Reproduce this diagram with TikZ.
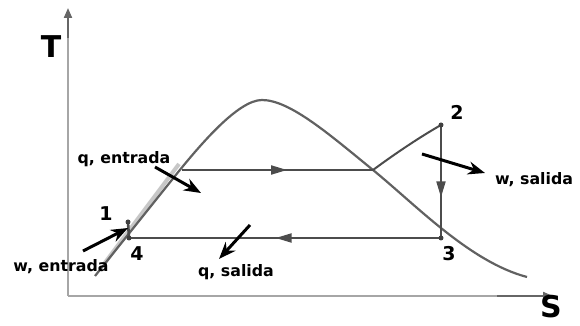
\documentclass[tikz,border=0pt]{standalone}
\usepackage{fontspec}
\setmainfont{DejaVu Sans}
\usetikzlibrary{arrows.meta,decorations.markings}
\begin{document}
\begin{tikzpicture}[x=0.5pt,y=-0.5pt,
  axisline/.style={draw=black!35, line width=1pt},
  axisdark/.style={draw=black!60, line width=1pt, -{Triangle[length=5pt,width=4pt]}},
  domeline/.style={draw=black!62, line width=1.1pt},
  cycleline/.style={draw=black!70, line width=1pt},
  midarrow/.style={postaction={decorate},decoration={markings,
      mark=at position #1 with {\arrow{Triangle[length=8pt,width=4.5pt]}}}},
  labarrow/.style={draw=black, line width=1.5pt, -{Stealth[length=8.5pt,width=6.5pt]}},
  lab/.style={font=\bfseries\fontsize{7.9pt}{9pt}\selectfont, inner sep=0pt},
  num/.style={font=\bfseries\fontsize{9.5pt}{10pt}\selectfont, inner sep=0pt},
  big/.style={font=\bfseries\fontsize{15pt}{17pt}\selectfont, inner sep=0pt}
]
\useasboundingbox (0,0) rectangle (580,326);
% axes
\coordinate (O) at (68,296);
\coordinate (Ytop) at (68,8);
\coordinate (Ymid) at (68,38);
\coordinate (Xend) at (553,296);
\coordinate (Xmid) at (497,296);
\draw[axisline] (O) -- (Ymid);
\draw[axisdark] (Ymid) -- (Ytop);
\draw[axisline] (O) -- (Xmid);
\draw[axisdark] (Xmid) -- (Xend);
\node[big] (T) at (51,47) {T};
\node[big, anchor=base] (S) at (551,318) {S};
% compressed liquid line (light)
\coordinate (La) at (104,264);
\coordinate (Lb) at (179,164);
\draw[draw=black!22, line width=2pt] (La) -- (Lb);
% saturation dome
\coordinate (D0) at (95,276);
\coordinate (D1) at (175,176);
\coordinate (Dpk) at (262,100);
\coordinate (Dr) at (373,170);
\coordinate (Dend) at (527,277);
\draw[domeline] (D0) -- (D1) .. controls (200,145) and (238,100) .. (Dpk)
  .. controls (290,100) and (330,135) .. (Dr)
  .. controls (416,205) and (470,262) .. (Dend);
% cycle points
\coordinate (P1) at (128,222);
\coordinate (P4) at (129,238);
\coordinate (P2) at (441,125);
\coordinate (P3) at (441,238);
\coordinate (Pf) at (182,170);
\draw[cycleline, midarrow=0.55] (Pf) -- (Dr);
\draw[cycleline] (Dr) .. controls (396,153) and (420,137) .. (P2);
\draw[cycleline, midarrow=0.64] (P2) -- (P3);
\draw[cycleline, midarrow=0.53] (P3) -- (P4);
\draw[cycleline, line width=1.3pt] (P4) -- (P1);
\fill[black!75] (P1) circle (2.5);
\fill[black!75] (P2) circle (2.5);
\fill[black!75] (P3) circle (2.5);
\fill[black!75] (P4) circle (2.5);
% point labels
\node[num] (n1) at (106,214) {1};
\node[num] (n2) at (457,112) {2};
\node[num] (n3) at (449,254) {3};
\node[num] (n4) at (137,254) {4};
% energy labels
\node[lab] (qe) at (124,159) {q, entrada};
\node[lab] (we) at (61,267) {w, entrada};
\node[lab] (qs) at (236,272) {q, salida};
\node[lab] (ws) at (534,180) {w, salida};
% label arrows
\coordinate (qeA) at (155,167);
\coordinate (qeB) at (201,193);
\coordinate (weA) at (83,251);
\coordinate (weB) at (128,228);
\coordinate (qsA) at (250,225);
\coordinate (qsB) at (219,259);
\coordinate (wsA) at (422,154);
\coordinate (wsB) at (485,173);
\draw[labarrow] (qeA) -- (qeB);
\draw[labarrow] (weA) -- (weB);
\draw[labarrow] (qsA) -- (qsB);
\draw[labarrow] (wsA) -- (wsB);
\end{tikzpicture}
\end{document}
